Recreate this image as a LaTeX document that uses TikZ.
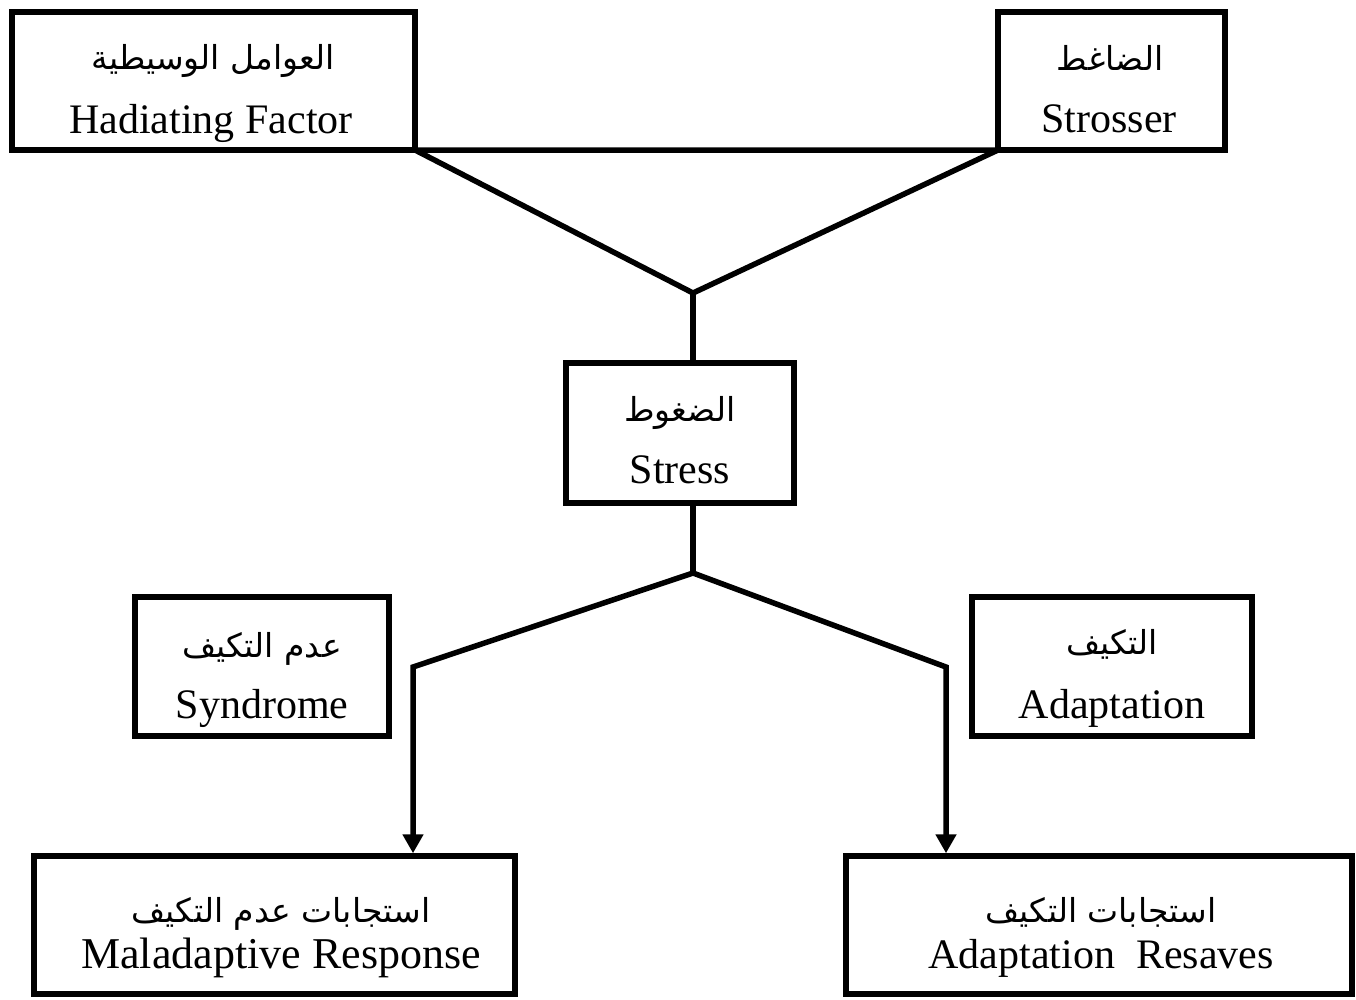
\documentclass[tikz,border=0pt]{standalone}
\usepackage{fontspec}
\setmainfont{Liberation Serif}
\newfontfamily\arabicfont[Script=Arabic]{DejaVu Sans}
\TeXXeTstate=1
\usetikzlibrary{arrows.meta}
\tikzset{
  box/.style={draw=black, line width=5.5pt, inner sep=0pt, outer sep=0pt},
  artxt/.style={font=\arabicfont\fontsize{33}{40}\selectfont, anchor=base, inner sep=0pt},
  entxt/.style={font=\fontsize{42}{50}\selectfont, anchor=base, inner sep=0pt},
  link/.style={draw=black, line width=5.5pt, line join=miter},
  twoarr/.style={link, {Triangle[width=20pt,length=19pt]}-{Triangle[width=20pt,length=19pt]}, shorten <=2.75pt, shorten >=2.75pt}
}
\begin{document}
\begin{tikzpicture}[x=1pt,y=-1pt]
\useasboundingbox (0,0) rectangle (1356,999);
\fill[white] (0,0) rectangle (1356,999);

% boxes
\node[box, minimum width=403pt, minimum height=138pt] (tl) at (213.5,81) {};
\node[box, minimum width=227pt, minimum height=138pt] (tr) at (1111.5,81) {};
\node[box, minimum width=228pt, minimum height=140pt] (st) at (680,433) {};
\node[box, minimum width=254pt, minimum height=139pt] (sy) at (262,666.5) {};
\node[box, minimum width=280pt, minimum height=139pt] (ad) at (1112,666.5) {};
\node[box, minimum width=481pt, minimum height=138pt] (ma) at (274.5,925) {};
\node[box, minimum width=506pt, minimum height=138pt] (re) at (1099,925) {};

% texts
\node[artxt] (tla) at (213,69) {\beginR العوامل الوسيطية\endR};
\node[entxt] (tle) at (211,133) {Hadiating Factor};
\node[artxt] (tra) at (1110,70) {\beginR الضاغط\endR};
\node[entxt] (tre) at (1109,132) {Strosser};
\node[artxt] (sta) at (680,421) {\beginR الضغوط\endR};
\node[entxt] (ste) at (680,483) {Stress};
\node[artxt] (sya) at (262,657) {\beginR عدم التكيف\endR};
\node[entxt] (sye) at (262,718) {Syndrome};
\node[artxt] (ada) at (1112,654) {\beginR التكيف\endR};
\node[entxt] (ade) at (1112,718) {Adaptation};
\node[artxt] (maa) at (281,922) {\beginR استجابات عدم التكيف\endR};
\node[entxt, font=\fontsize{44}{50}\selectfont] (mae) at (281,968) {Maladaptive Response};
\node[artxt] (rea) at (1101,922) {\beginR استجابات التكيف\endR};
\node[entxt] (ree) at (1101,968) {Adaptation\ \ Resaves};

% junctions
\coordinate (jt) at (693,293);
\coordinate (jb) at (693,573);
\coordinate (lc) at (413,667);
\coordinate (rc) at (946,667);

% connectors
\draw[link] (tl.south east) -- (tr.south west) -- (jt) -- cycle;
\draw[link] (jt) -- (jt |- st.north);
\draw[link] (jb |- st.south) -- (jb);
\draw[twoarr] (lc |- ma.north) -- (lc) -- (jb) -- (rc) -- (rc |- re.north);
\end{tikzpicture}
\end{document}
